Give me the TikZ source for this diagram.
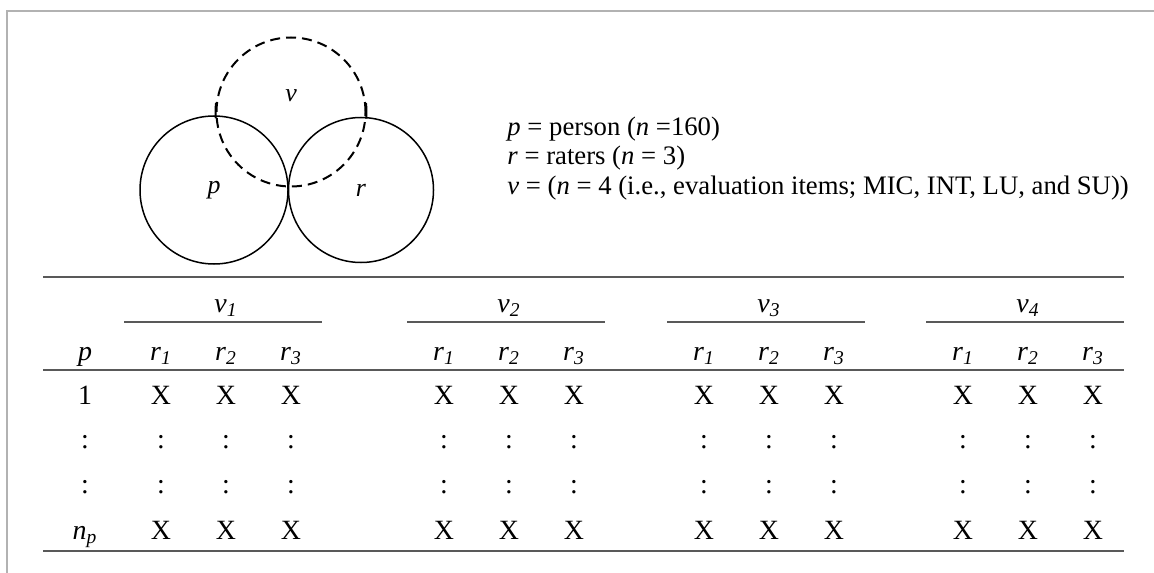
\documentclass[tikz,border=0pt]{standalone}
\usepackage{fontspec}
\setmainfont{Liberation Serif}
\newcommand{\isub}[2]{\textit{#1}\textsubscript{\textit{#2}}}

\begin{document}
\begin{tikzpicture}[x=0.5bp, y=-0.5bp,
      set/.style={circle, draw, line width=0.75bp, inner sep=0pt, font=\fontsize{13}{15}\selectfont},
      legend/.style={anchor=base west, inner sep=0pt, font=\fontsize{13.4}{15}\selectfont},
      cell/.style={anchor=base, inner sep=0pt, font=\fontsize{14}{16}\selectfont},
      rule/.style={draw=black!65, line width=0.8bp},
      frame/.style={draw=black!30, line width=0.8bp}]
    \useasboundingbox (0,0) rectangle (1154,573);
    \draw[frame] (7,573) -- (7,11) -- (1154,11);
    % venn diagram of the facets
    \node[set, minimum size=74bp] (p) at (214,190) {\textit{p}};
    \node[set, minimum size=72.5bp] (r) at (361,190) {\textit{r}};
    \node[set, minimum size=74.5bp, dashed, dash pattern=on 5bp off 3bp, line width=1bp] (v) at (291,112) {};
    \node[font=\fontsize{13}{15}\selectfont, inner sep=0pt] (vl) at (291,96) {\textit{v}};
    \draw[line width=1bp] (v.173) arc[start angle=173, end angle=185, radius=37.25bp];
    \draw[line width=1bp] (v.-5) arc[start angle=-5, end angle=7, radius=37.25bp];
    % legend
    \node[legend] (lp) at (507,136) {\textit{p} = person (\textit{n} =160)};
    \node[legend] (lr) at (507,165) {\textit{r} = raters (\textit{n} = 3)};
    \node[legend] (lv) at (507,194) {\textit{v} = (\textit{n} = 4 (i.e., evaluation items; MIC, INT, LU, and SU))};
    % table
    \draw[rule] (43,277) -- (1124,277);
    \draw[rule] (43,370) -- (1124,370);
    \draw[rule] (43,551) -- (1124,551);
    \node[cell] (hp) at (85,360) {\textit{p}};
    \node[cell] (p1) at (85,404) {1};
    \node[cell] (pa) at (85,448) {:};
    \node[cell] (pb) at (85,493) {:};
    \node[cell] (pn) at (85,539) {\isub{n}{p}};
    \foreach \g/\gx in {1/226, 2/509, 3/769, 4/1028} {
      \node[cell] (v\g) at (\gx,312) {\isub{v}{\g}};
      \draw[rule] (\gx-102,322) -- (\gx+96,322);
      \foreach \c in {1,2,3} {
        \node[cell] (r\g\c) at (\gx+65*\c-130,360) {\isub{r}{\c}};
        \node[cell] (x\g\c) at (\gx+65*\c-130,404) {X};
        \node[cell] (a\g\c) at (\gx+65*\c-130,448) {:};
        \node[cell] (b\g\c) at (\gx+65*\c-130,493) {:};
        \node[cell] (n\g\c) at (\gx+65*\c-130,539) {X};
      }
    }
  \end{tikzpicture}
\end{document}
